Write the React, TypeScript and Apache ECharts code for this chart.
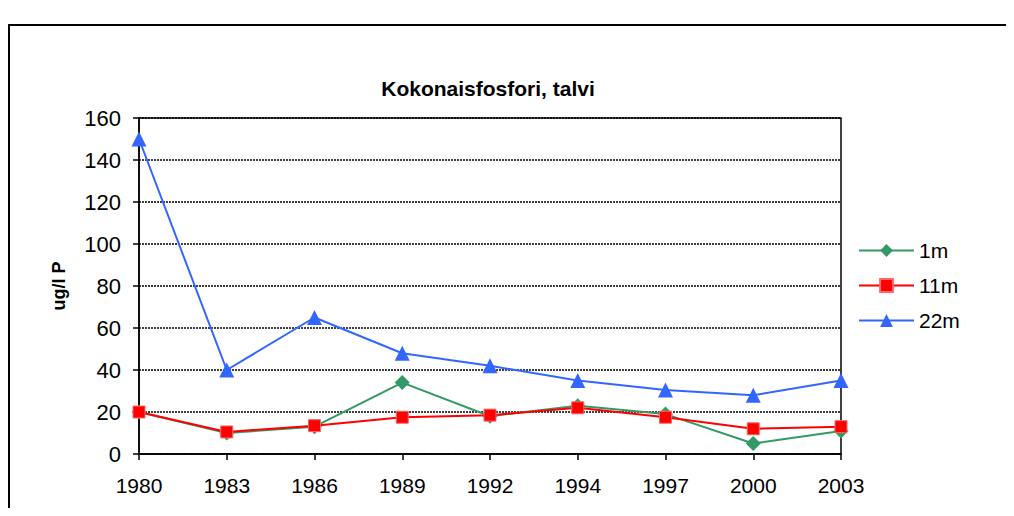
import React, { useEffect, useRef } from "react";
import * as echarts from "echarts";

const years = ["1980", "1983", "1986", "1989", "1992", "1994", "1997", "2000", "2003"];
const s1m = [20, 10, 13, 34, 18, 23, 19, 5, 11];
const s11m = [20, 10.5, 13.5, 17.5, 18.5, 22, 17.5, 12, 13];
const s22m = [150, 40, 65, 48, 42, 35, 30.5, 28, 35];
const yTicks = [0, 20, 40, 60, 80, 100, 120, 140, 160];

export default function App() {
  const ref = useRef<HTMLDivElement>(null);
  useEffect(() => {
    const chart = echarts.init(ref.current!, null, { renderer: "svg" });
    const font = "Arial, 'Liberation Sans', sans-serif";
    chart.setOption({
      animation: false,
      backgroundColor: "#ffffff",
      textStyle: { fontFamily: font },
      title: {
        text: "Kokonaisfosfori, talvi",
        left: 475,
        top: 65,
        textAlign: "center",
        textStyle: { fontSize: 21, fontWeight: "bold", color: "#000", fontFamily: font },
      },
      graphic: [
        {
          type: "line",
          shape: { x1: 0, y1: 17, x2: 1300, y2: 17 },
          style: { stroke: "#000", lineWidth: 2 },
          silent: true,
        },
        {
          type: "line",
          shape: { x1: 1, y1: 16, x2: 1, y2: 700 },
          style: { stroke: "#000", lineWidth: 2 },
          silent: true,
        },
      ],
      grid: { left: 131, right: 173, top: 110, bottom: 54, show: true, borderColor: "#000", borderWidth: 1.5 },
      legend: {
        orient: "vertical",
        left: 845,
        top: 227,
        itemWidth: 55,
        itemHeight: 16,
        itemGap: 14,
        textStyle: { fontSize: 21, color: "#000", fontFamily: font },
        data: ["1m", "11m", "22m"],
      },
      xAxis: {
        type: "category",
        data: years,
        boundaryGap: false,
        axisLine: { lineStyle: { color: "#000", width: 1.5 } },
        axisTick: { show: true, alignWithLabel: true, length: 6, lineStyle: { color: "#000", width: 1.5 } },
        axisLabel: { color: "#000", fontSize: 21, margin: 21, fontFamily: font },
        splitLine: { show: false },
      },
      yAxis: {
        type: "value",
        min: 0,
        max: 160,
        interval: 20,
        name: "ug/l P",
        nameLocation: "middle",
        nameGap: 71,
        nameTextStyle: { fontSize: 18, fontWeight: "bold", color: "#000", fontFamily: font },
        axisLine: { show: true, lineStyle: { color: "#000", width: 1.5 } },
        axisTick: { show: true, length: 6, lineStyle: { color: "#000", width: 1.5 } },
        axisLabel: {
          color: "#000",
          fontSize: 22,
          margin: 18,
          fontFamily: font,
          formatter: (v: number) => (yTicks.includes(v) ? String(v) : ""),
        },
        splitLine: { show: true, lineStyle: { color: "#000", type: [2, 1], width: 1.5 } },
      },
      series: [
        {
          name: "1m",
          type: "line",
          data: s1m,
          symbol: "diamond",
          symbolSize: 15,
          color: "#339966",
          lineStyle: { width: 2, color: "#339966" },
          itemStyle: { color: "#339966" },
          z: 2,
        },
        {
          name: "11m",
          type: "line",
          data: s11m,
          symbol: "rect",
          symbolSize: 12,
          color: "#ff0000",
          lineStyle: { width: 2, color: "#ff0000" },
          itemStyle: { color: "#ff0000", borderColor: "#ff6666", borderWidth: 1 },
          z: 3,
        },
        {
          name: "22m",
          type: "line",
          data: s22m,
          symbol: "triangle",
          symbolSize: 15,
          color: "#3366ff",
          lineStyle: { width: 2, color: "#3366ff" },
          itemStyle: { color: "#3366ff" },
          z: 4,
        },
      ],
    });
    return () => chart.dispose();
  }, []);
  return <div ref={ref} style={{ width: 1006, height: 500 }} />;
}
